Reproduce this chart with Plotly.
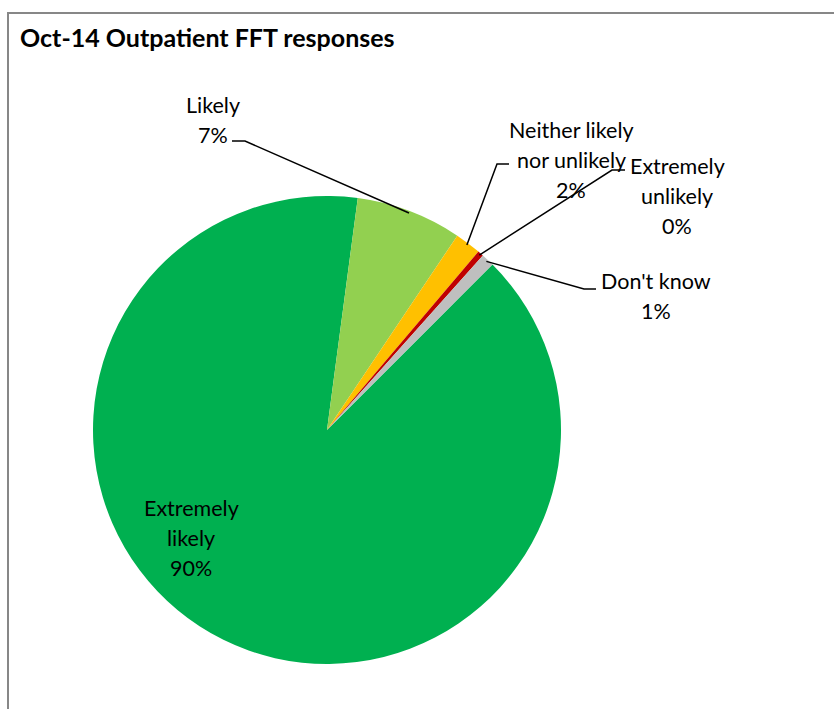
import math
import plotly.graph_objects as go

categories = ["Extremely likely", "Likely", "Neither likely nor unlikely", "Extremely unlikely", "Don't know"]
counts = [896, 73, 18, 4, 9]
colors = ["#00B050", "#92D050", "#FFC000", "#C00000", "#BFBFBF"]
label_lines = [["Extremely", "likely"], ["Likely"], ["Neither likely", "nor unlikely"], ["Extremely", "unlikely"], ["Don't know"]]

W, H = 834, 709
CX, CY, R = 327, 430, 234
ROT = 45
FONT = "Lato, 'Open Sans', sans-serif"

def px(x):
    return x / W

def py(y):
    return 1 - y / H

total = sum(counts)
pcts = [round(100 * c / total) for c in counts]

fig = go.Figure(go.Pie(
    labels=categories, values=counts, sort=False, direction="clockwise", rotation=ROT,
    marker=dict(colors=colors, line=dict(width=0)),
    textinfo="none", hoverinfo="label+percent",
    domain=dict(x=[px(CX - R), px(CX + R)], y=[py(CY + R), py(CY - R)]),
    showlegend=False,
))

# mid angles (deg, clockwise from 12 o'clock)
mids = []
acc = ROT
for c in counts:
    span = 360 * c / total
    mids.append(acc + span / 2)
    acc += span

def arc_pt(theta, r=R):
    t = math.radians(theta)
    return CX + r * math.sin(t), CY - r * math.cos(t)

# label layout: text center x, first line y, leader (elbow start x, elbow y, elbow end x)
layout_pos = {
    0: dict(x=191, y=508, leader=None),
    1: dict(x=213, y=105, leader=(232, 141, 245)),
    2: dict(x=571, y=130, leader=(509, 164, 497)),
    3: dict(x=677, y=166, leader=(625, 170, 612)),
    4: dict(x=656, y=281, leader=(596, 289, 584)),
}
LH = 30

annotations = []
shapes = []
for i, cat in enumerate(categories):
    lp = layout_pos[i]
    lines = label_lines[i] + [f"{pcts[i]}%"]
    for k, ln in enumerate(lines):
        annotations.append(dict(
            x=px(lp["x"]), y=py(lp["y"] + k * LH), xref="paper", yref="paper",
            text=ln, showarrow=False, xanchor="center", yanchor="middle",
            font=dict(family=FONT, size=21.5, color="#000000"),
        ))
    if lp["leader"]:
        x0, y0, x1 = lp["leader"]
        ex, ey = arc_pt(mids[i], R - 2)
        shapes.append(dict(
            type="path", xref="paper", yref="paper",
            path=f"M {px(x0)} {py(y0)} L {px(x1)} {py(y0)} L {px(ex)} {py(ey)}",
            line=dict(color="#000000", width=1.5),
        ))

# chart border
shapes.append(dict(type="rect", xref="paper", yref="paper",
                   x0=px(8), y0=py(720), x1=px(850), y1=py(13),
                   line=dict(color="#878787", width=2), fillcolor="rgba(0,0,0,0)", layer="below"))

annotations.append(dict(
    x=px(18), y=py(37), xref="paper", yref="paper", text="<b>Oct-14 Outpatient FFT responses</b>",
    showarrow=False, xanchor="left", yanchor="middle",
    font=dict(family=FONT, size=25, color="#000000"),
))

fig.update_layout(
    width=W, height=H, margin=dict(l=0, r=0, t=0, b=0),
    paper_bgcolor="#FFFFFF", plot_bgcolor="#FFFFFF",
    annotations=annotations, shapes=shapes,
)

fig.write_html("out.html")
